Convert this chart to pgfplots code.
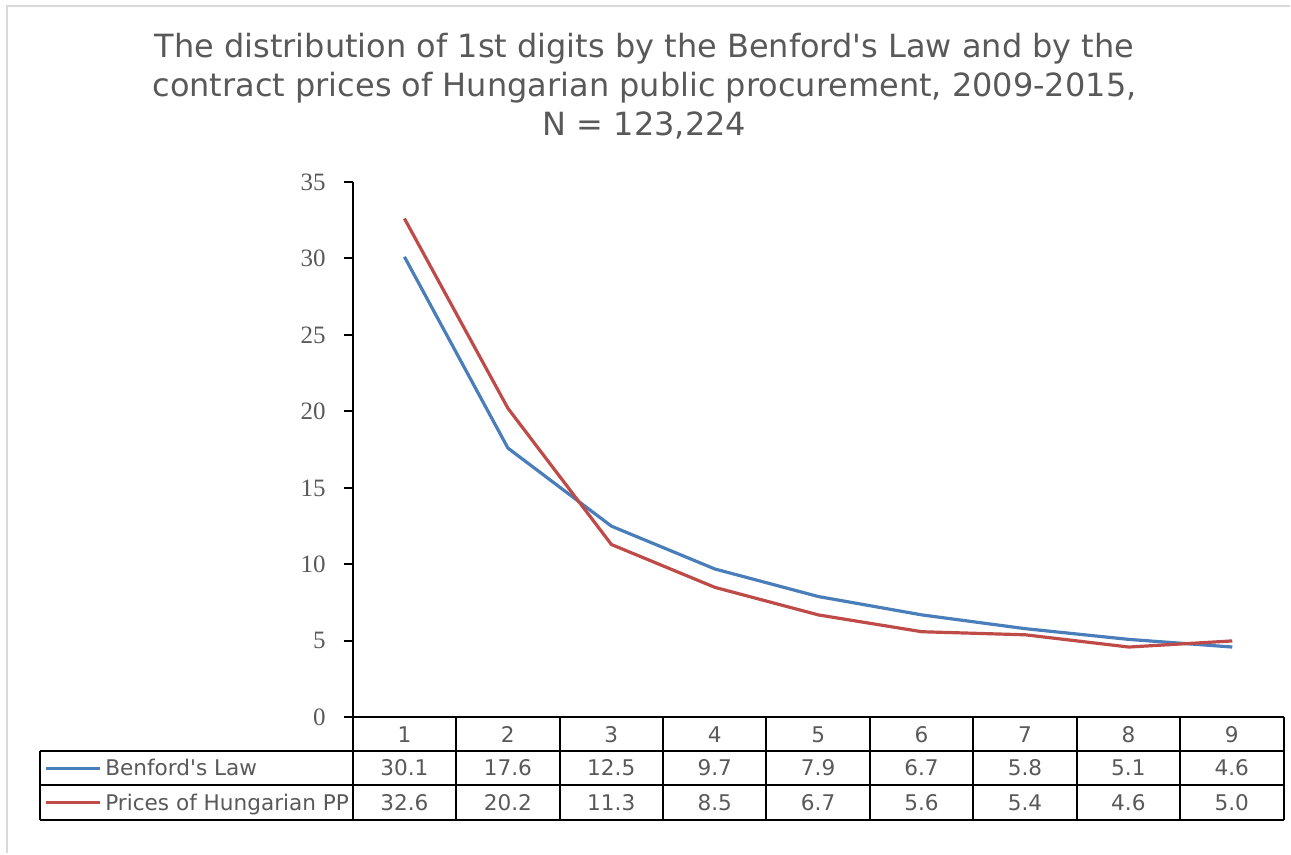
\documentclass[border=0pt]{standalone}
\usepackage{pgfplots}
\usepackage{pgfplotstable}
\pgfplotsset{compat=1.18}
\usepackage{fontspec}
\setmainfont[Ligatures=TeXOff]{DejaVu Sans}
\newfontfamily\tickfont{Liberation Serif}
\definecolor{txt}{HTML}{595959}
\definecolor{bl}{HTML}{4A7EBB}
\definecolor{rd}{HTML}{BE4B48}
\definecolor{framec}{HTML}{D9D9D9}
\pgfplotstableread{
d b p
1 30.1 32.6
2 17.6 20.2
3 12.5 11.3
4 9.7 8.5
5 7.9 6.7
6 6.7 5.6
7 5.8 5.4
8 5.1 4.6
9 4.6 5.0
}\data
\begin{document}
\begin{tikzpicture}[x=0.5pt,y=0.5pt]
\begin{axis}[scale only axis,
  width=466pt, height=268pt,
  xmin=0.5, xmax=9.5, ymin=0, ymax=35,
  ytick={0,5,...,35}, xtick=\empty,
  axis x line=none, axis y line*=left,
  axis line style={black, line width=1pt},
  tick align=outside, major tick length=4.5pt,
  ytick style={black, line width=1pt},
  /pgf/number format/assume math mode=true,
  yticklabel style={font=\tickfont\fontsize{12.5}{12.5}\selectfont, text=txt, xshift=-5.5pt},
  clip=false]
\addplot[bl, line width=1.6pt] table[x=d,y=b]{\data};
\addplot[rd, line width=1.6pt] table[x=d,y=p]{\data};
\coordinate (O) at (rel axis cs:0,0);
\end{axis}
\begin{scope}[shift={(O)}, shift={(-353,-136)}]
\path (0,0) rectangle (1291,854);
\draw[framec, line width=1pt] (7,0) -- (7,848) -- (1291,848);
\node[txt, font=\fontsize{16}{19.5}\selectfont, align=center] at (645,768)
{The distribution of 1st digits by the Benford's Law and by the\\
contract prices of Hungarian public procurement, 2009-2015,\\
N = 123,224};
% data table
\begin{scope}[line width=1pt]
\draw (353,136) -- (1284.5,136);
\draw (40,102) -- (1284.5,102);
\draw (40,68) -- (1284.5,68);
\draw (40,33) -- (1284.5,33);
\draw (40,102) -- (40,33);
\foreach \k in {0,...,9} {\draw ({353+103.5*\k},136) -- ({353+103.5*\k},33);}
\end{scope}
\begin{scope}[every node/.style={txt, font=\fontsize{10.8}{12}\selectfont, text height=1.5ex, text depth=0.3ex, inner sep=0pt}]
\foreach \k in {1,...,9} {\node at ({353+103.5*(\k-0.5)},117.5) {\k};}
\foreach \v [count=\k] in {30.1,17.6,12.5,9.7,7.9,6.7,5.8,5.1,4.6} {\node at ({353+103.5*(\k-0.5)},84) {\v};}
\foreach \v [count=\k] in {32.6,20.2,11.3,8.5,6.7,5.6,5.4,4.6,5.0} {\node at ({353+103.5*(\k-0.5)},49.5) {\v};}
\draw[bl, line width=1.6pt] (46,85) -- (100,85);
\draw[rd, line width=1.6pt] (46,50.5) -- (100,50.5);
\node[anchor=west] at (105,84) {Benford's Law};
\node[anchor=west] at (105,49.5) {Prices of Hungarian PP};
\end{scope}
\end{scope}
\end{tikzpicture}
\end{document}
